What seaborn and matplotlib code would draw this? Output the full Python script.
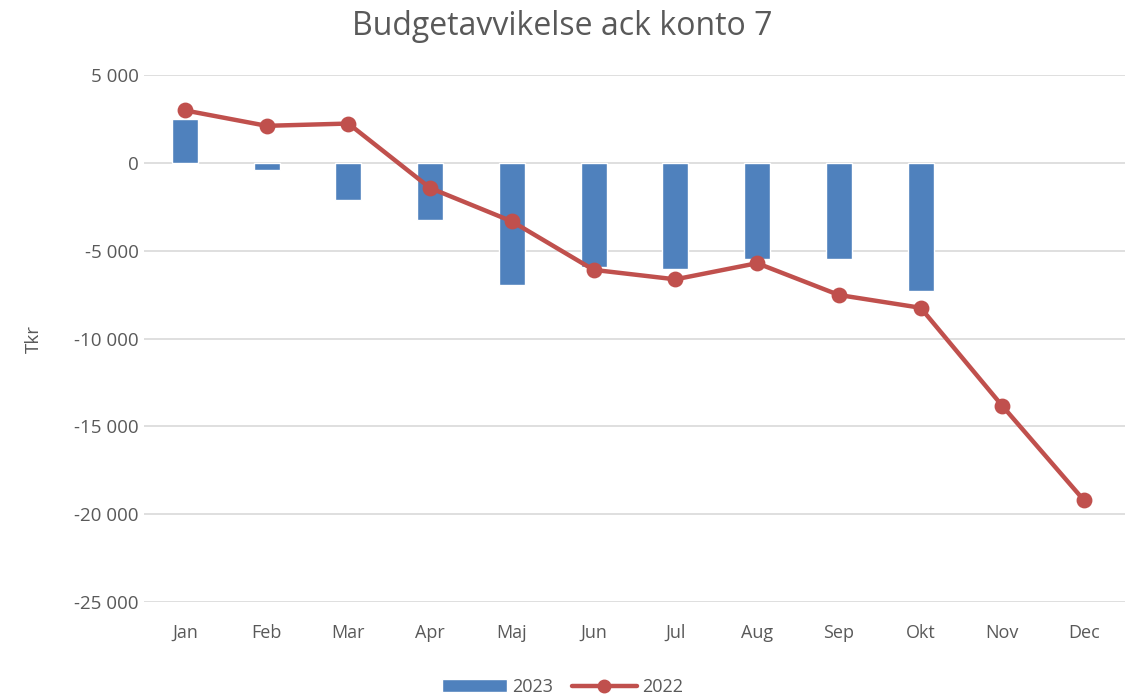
import numpy as np
import seaborn as sns
import matplotlib.pyplot as plt
from matplotlib.patches import Patch
from matplotlib.lines import Line2D

# data (Tkr)
months = ["Jan", "Feb", "Mar", "Apr", "Maj", "Jun", "Jul", "Aug", "Sep", "Okt", "Nov", "Dec"]
values_2023 = [2500, -400, -2130, -3250, -6950, -5950, -6030, -5470, -5470, -7290, np.nan, np.nan]
values_2022 = [2990, 2110, 2240, -1430, -3330, -6090, -6630, -5710, -7520, -8250, -13840, -19220]
y_ticks = [5000, 0, -5000, -10000, -15000, -20000, -25000]

bar_color = "#4F81BD"
line_color = "#C0504D"
text_color = "#595959"

sns.set_style("white")
plt.rcParams["font.family"] = ["Open Sans", "DejaVu Sans"]

fig = plt.figure(figsize=(11.25, 6.97), dpi=100)
ax = fig.add_axes([0.128, 0.1363, 0.872, 0.756])

sns.barplot(x=months, y=values_2023, color=bar_color, width=0.32,
            saturation=1, ax=ax, zorder=2)
sns.pointplot(x=months, y=values_2022, color=line_color, markers="o",
              markersize=9, linewidth=3.2, ax=ax, zorder=3)

ax.set_ylim(-25000, 5000)
ax.set_xlim(-0.5, 11.5)
ax.set_yticks(y_ticks)
ax.set_yticklabels([f"{v:,}".replace(",", " ") for v in y_ticks])
ax.yaxis.grid(True, color="#d9d9d9", linewidth=1.2, zorder=0)
ax.set_axisbelow(True)
for s in ax.spines.values():
    s.set_visible(False)
ax.tick_params(axis="y", length=0, labelsize=13.5, colors=text_color, pad=4)
ax.tick_params(axis="x", length=0, labelsize=13, colors=text_color, pad=16)

ax.set_ylabel("Tkr", fontsize=13.5, color=text_color, labelpad=22)
ax.set_xlabel("")
fig.suptitle("Budgetavvikelse ack konto 7", fontsize=23, color=text_color, y=0.985)

handles = [
    Patch(facecolor=bar_color, label="2023"),
    Line2D([0], [0], color=line_color, linewidth=3.2, marker="o", markersize=9, label="2022"),
]
fig.legend(handles=handles, loc="lower center", ncol=2, frameon=False,
           fontsize=13, labelcolor=text_color, bbox_to_anchor=(0.5, -0.022),
           handlelength=3.6, handletextpad=0.3, columnspacing=1.0)

fig.savefig("out.png", dpi=100)
